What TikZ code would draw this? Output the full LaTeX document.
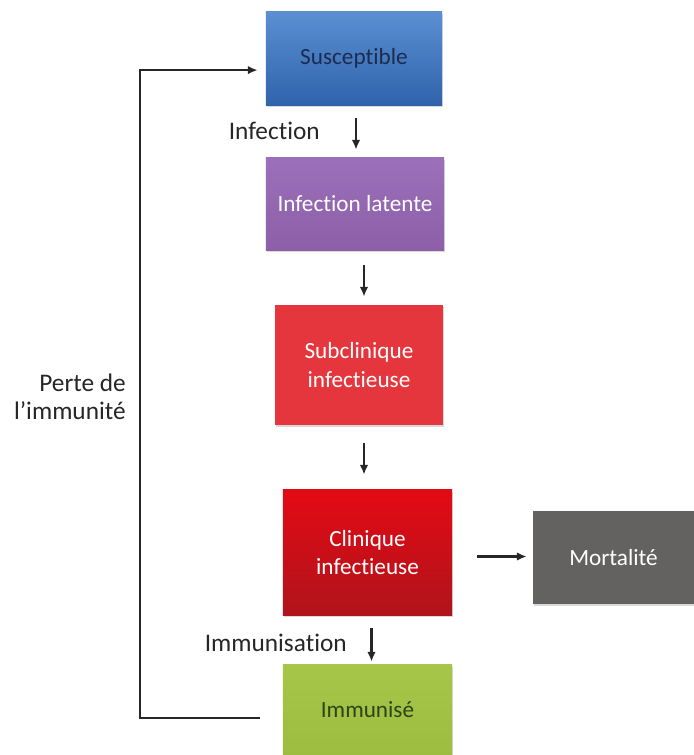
\documentclass[tikz,border=0pt]{standalone}
\usepackage{fontspec}
\setmainfont{Carlito}[Ligatures=NoCommon]
\usetikzlibrary{arrows.meta,shadows}

\definecolor{susblue}{HTML}{2F64AC}
\definecolor{susblueup}{HTML}{5A8FD2}
\definecolor{susnavy}{HTML}{1C2B4F}
\definecolor{latpurple}{HTML}{8C5FA8}
\definecolor{latpurpleup}{HTML}{9C6FBA}
\definecolor{subred}{HTML}{E5363D}
\definecolor{clired}{HTML}{E30A14}
\definecolor{clireddown}{HTML}{B0141C}
\definecolor{morgray}{HTML}{646261}
\definecolor{immgreen}{HTML}{A6C649}
\definecolor{immgreendown}{HTML}{9CBD40}
\definecolor{immdark}{HTML}{2C4418}

\begin{document}
\begin{tikzpicture}[x=0.025cm,y=-0.025cm,
	box/.style={rectangle, inner sep=2pt, align=center,
		font=\fontsize{16.5}{20}\selectfont, text=white,
		drop shadow={opacity=0.3,shadow xshift=0.8pt,shadow yshift=-1.2pt}},
	arr/.style={-{Latex[length=7pt,width=6pt]}, line width=1.8pt, black!85},
	lbl/.style={font=\fontsize{18}{19.5}\selectfont, text=black!85, inner sep=0pt}]
	\useasboundingbox (0,0) rectangle (694,755);
	%compartments
		\node[box, minimum width=4.4cm, minimum height=2.325cm,
			top color=susblueup, bottom color=susblue, text=susnavy]
			(sus) at (354,58.5) {Susceptible};
		\node[box, minimum width=4.45cm, minimum height=2.3cm,
			top color=latpurpleup, bottom color=latpurple]
			(lat) at (355,204) {Infection latente};
		\node[box, minimum width=4.2cm, minimum height=3cm, fill=subred]
			(sub) at (359,365) {Subclinique\\infectieuse};
		\node[box, minimum width=4.225cm, minimum height=3.125cm,
			top color=clired, bottom color=clireddown]
			(cli) at (367.5,552.5) {Clinique\\infectieuse};
		\node[box, minimum width=4.025cm, minimum height=2.325cm, fill=morgray]
			(mor) at (613.5,557.5) {Mortalité};
		\node[box, minimum width=4.225cm, minimum height=2.25cm,
			top color=immgreen, bottom color=immgreendown, text=immdark]
			(imm) at (367.5,710) {Immunisé};
	%transitions
		\draw[arr, shorten <=0.325cm, shorten >=0.2cm]
			([xshift=0.05cm]sus.south) -- ([xshift=0.05cm]sus.south |- lat.north);
		\draw[arr, shorten <=0.375cm, shorten >=0.2cm]
			([xshift=0.225cm]lat.south) -- ([xshift=0.225cm]lat.south |- sub.north);
		\draw[arr, shorten <=0.45cm, shorten >=0.375cm]
			([xshift=0.125cm]sub.south) -- ([xshift=0.125cm]sub.south |- cli.north);
		\draw[arr, shorten <=0.325cm, shorten >=0.075cm]
			([xshift=0.1cm]cli.south) -- ([xshift=0.1cm]cli.south |- imm.north);
		\draw[arr, shorten <=0.625cm, shorten >=0.15cm]
			([yshift=-0.1cm]cli.east) -- ([yshift=-0.1cm]cli.east -| mor.west);
	%loss of immunity
		\coordinate (back) at (140,400);
		\draw[arr, shorten <=0.575cm, shorten >=0.2cm]
			([yshift=-0.2cm]imm.west) -| (back) |- ([yshift=-0.29cm]sus.west);
	%labels
		\node[lbl, anchor=east] (infl) at (320,131) {Infection};
		\node[lbl, anchor=east] (imml) at (347,643) {Immunisation};
		\node[lbl, anchor=east, align=right]
			(perl) at (126,397) {Perte de\\l’immunité};
\end{tikzpicture}
\end{document}
